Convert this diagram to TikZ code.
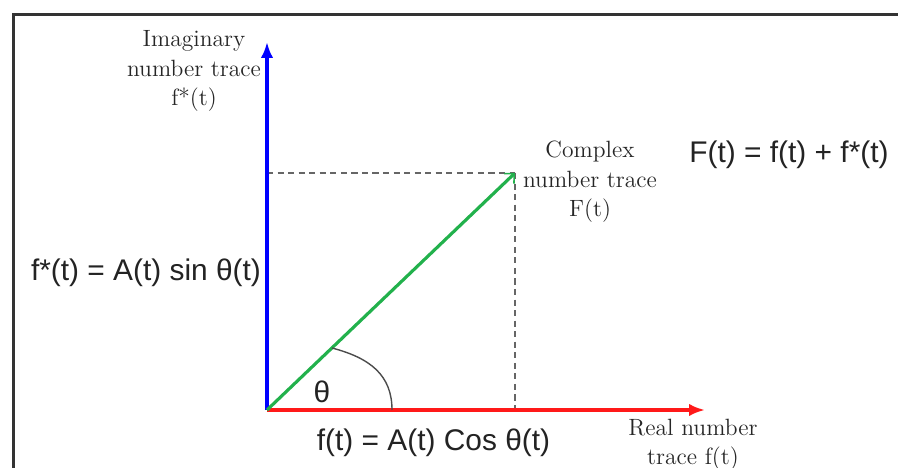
\documentclass[tikz,border=0pt]{standalone}
\usepackage{fontspec}
\newfontfamily\eqfont{Liberation Sans}
\usepackage{xcolor}
\usepackage{tikz}
\usetikzlibrary{arrows.meta,positioning}
\definecolor{tracegreen}{RGB}{34,177,76}
\definecolor{textgray}{RGB}{35,35,35}

\begin{document}
\begin{tikzpicture}[
  every node/.style={text=textgray},
  axis/.style={-{Latex[length=9pt,width=7pt]}, line width=1.8pt, color=#1},
  trace/.style={-{Straight Barb[length=4pt,width=8pt,line width=0.9pt]}, line width=1.8pt, color=tracegreen},
  helpline/.style={dash pattern=on 3.5pt off 2.5pt, color=black!60, line width=0.6pt},
  anglearc/.style={line width=0.8pt, color=black!70},
  tracelabel/.style={font=\fontsize{13.4}{16.8}\selectfont, align=center, text=black!85},
  eqtext/.style={font=\eqfont\fontsize{17}{20}\selectfont},
]
\useasboundingbox (-5.34,-1.16) rectangle (12.62,8.2);
% --- frame (open on the right and at the bottom)
\draw[line width=1.7pt, black!80] (-5.07,-1.4) -- (-5.07,7.91) -- (12.9,7.91);

% --- points of the diagram
\coordinate (O) at (0,0);
\coordinate (Ytip) at (0,7.36);
\coordinate (Xtip) at (8.76,0);
\coordinate (P) at (4.96,4.74);
\coordinate (Py) at (0,4.74);
\coordinate (Px) at (4.96,0);
\coordinate (arcA) at (1.3,1.24);
\coordinate (arcB) at (2.5,0);

% projections of the complex trace
\draw[helpline] (Py) -- (P);
\draw[helpline] (P) -- (Px);

% axes
\draw[axis=blue] (O) -- (Ytip);
\draw[axis=red!90] (O) -- (Xtip);

% complex number trace and angle
\draw[trace] (O) -- (P);
\draw[anglearc] (arcA) .. controls (2.06,1.04) and (2.5,0.7) .. (arcB);
\node[eqtext] (theta) at (1.1,0.36) {θ};

% labels
\node[tracelabel] (imlabel) at (-1.46,6.78) {Imaginary\\number trace\\f*(t)};
\node[tracelabel] (cxlabel) at (6.46,4.56) {Complex\\number trace\\F(t)};
\node[tracelabel] (relabel) at (8.52,-0.70) {Real number\\trace f(t)};

% equations
\node[eqtext] (Feq) at (10.44,5.1) {F(t) = f(t) + f*(t)};
\node[eqtext] (sineq) at (-2.42,2.74) {f*(t) = A(t) sin θ(t)};
\node[eqtext] (coseq) at (3.33,-0.66) {f(t) = A(t) Cos θ(t)};
\end{tikzpicture}
\end{document}
